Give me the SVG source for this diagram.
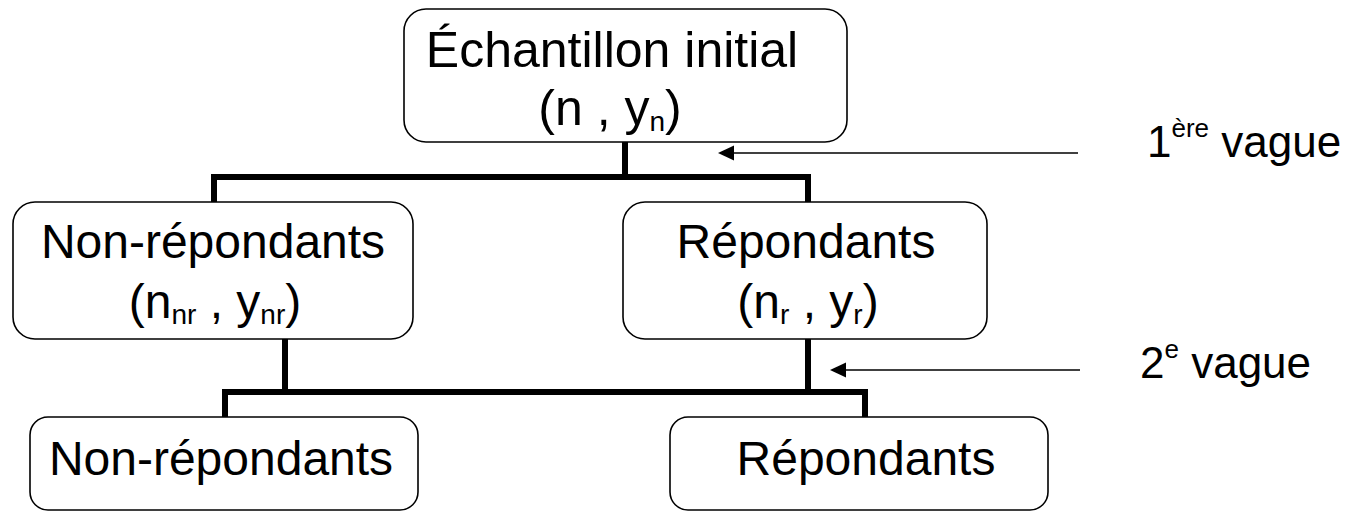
<svg xmlns="http://www.w3.org/2000/svg" width="1365" height="512" viewBox="0 0 1365 512">
<style>
.box{fill:#fff;stroke:#000;stroke-width:1.6}
.t{font-family:"Liberation Sans",Arial,sans-serif;font-size:48px;fill:#000;text-anchor:middle}
.big{font-size:50px}
.lbl{font-family:"Liberation Sans",Arial,sans-serif;font-size:44px;fill:#000}
.sub{font-size:28px}
.sup{font-size:26px}
.conn{stroke:#000;stroke-width:6;fill:none;stroke-linecap:square}
.arr{stroke:#000;stroke-width:1.6;fill:none}
</style>
<g id="connectors">
<path class="conn" d="M625,142 V177 M214,202 V177 H808 V202"/>
<path class="conn" d="M808,339 V392 M285,339 V392 M225,417 V392 H865 V417"/>
<line class="arr" x1="1078" y1="153" x2="733" y2="153"/>
<path d="M718,153 L734,145.5 L734,160.5 z" fill="#000"/>
<line class="arr" x1="1080" y1="370" x2="845" y2="370"/>
<path d="M830,370 L846,362.5 L846,377.5 z" fill="#000"/>
</g>
<g id="node-initial">
<rect class="box" x="404" y="9" width="443" height="133" rx="22"/>
<text class="t big" x="612" y="67">Échantillon initial</text>
<text class="t big" x="610" y="125">(n , y<tspan class="sub" dy="6">n</tspan><tspan dy="-6">)</tspan></text>
</g>
<g id="node-nonrep1">
<rect class="box" x="13" y="202" width="400" height="137" rx="22"/>
<text class="t" x="213" y="258">Non-répondants</text>
<text class="t" x="215" y="318">(n<tspan class="sub" dy="6">nr</tspan><tspan dy="-6"> , y</tspan><tspan class="sub" dy="6">nr</tspan><tspan dy="-6">)</tspan></text>
</g>
<g id="node-rep1">
<rect class="box" x="623" y="202" width="364" height="137" rx="22"/>
<text class="t" x="806" y="258">Répondants</text>
<text class="t" x="808" y="318">(n<tspan class="sub" dy="6">r</tspan><tspan dy="-6"> , y</tspan><tspan class="sub" dy="6">r</tspan><tspan dy="-6">)</tspan></text>
</g>
<g id="node-nonrep2">
<rect class="box" x="30" y="417" width="388" height="93" rx="18"/>
<text class="t" x="221" y="475">Non-répondants</text>
</g>
<g id="node-rep2">
<rect class="box" x="670" y="417" width="378" height="93" rx="18"/>
<text class="t" x="866" y="475">Répondants</text>
</g>
<g id="labels">
<text class="lbl" x="1147" y="157">1<tspan class="sup" dy="-20">ère</tspan><tspan dy="20"> vague</tspan></text>
<text class="lbl" x="1140" y="378">2<tspan class="sup" dy="-20">e</tspan><tspan dy="20"> vague</tspan></text>
</g>
</svg>
